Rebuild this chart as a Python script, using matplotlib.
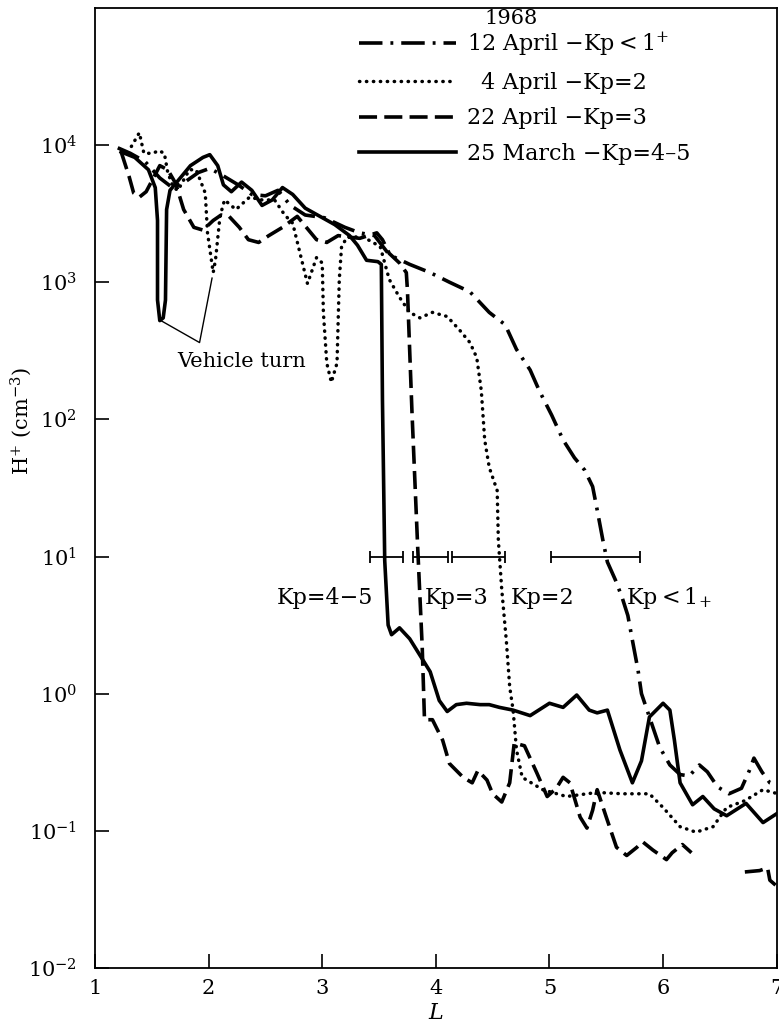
import numpy as np
import matplotlib.pyplot as plt
from matplotlib.lines import Line2D

plt.rcParams['font.family'] = ['DejaVu Serif']
plt.rcParams['mathtext.fontset'] = 'dejavuserif'

# L shell and log10 of the H+ density (cm^-3) along each pass, 1968
L_apr12 = [1.20, 1.31, 1.44, 1.57, 1.68, 1.79, 1.91, 2.01, 2.12, 2.26, 2.38, 2.50, 2.61, 2.72, 2.85,
           3.02, 3.20, 3.33, 3.46, 3.59, 3.77, 3.95, 4.12, 4.30, 4.47, 4.61, 4.71, 4.83, 4.91, 5.02,
           5.12, 5.22, 5.31, 5.38, 5.42, 5.47, 5.51, 5.58, 5.64, 5.69, 5.73, 5.78, 5.81, 5.88, 5.97,
           6.06, 6.15, 6.23, 6.32, 6.39, 6.48, 6.58, 6.69, 6.76, 6.80, 6.87, 6.94, 7.01]
logn_apr12 = [3.98, 3.94, 3.88, 3.76, 3.69, 3.73, 3.80, 3.83, 3.78, 3.71, 3.64, 3.63, 3.67, 3.56, 3.49,
              3.47, 3.40, 3.36, 3.34, 3.20, 3.13, 3.07, 3.00, 2.93, 2.78, 2.69, 2.51, 2.36, 2.21, 2.03,
              1.85, 1.72, 1.63, 1.51, 1.34, 1.12, 0.96, 0.83, 0.70, 0.57, 0.39, 0.17, 0.00, -0.17, -0.39,
              -0.52, -0.59, -0.60, -0.52, -0.57, -0.68, -0.73, -0.69, -0.56, -0.47, -0.57, -0.65, -0.67]

L_apr04 = [1.32, 1.39, 1.43, 1.51, 1.56, 1.61, 1.64, 1.69, 1.73, 1.83, 1.89, 1.97, 1.99, 2.04, 2.06,
           2.10, 2.14, 2.24, 2.36, 2.47, 2.58, 2.67, 2.74, 2.79, 2.87, 2.95, 3.00, 3.01, 3.04, 3.08,
           3.13, 3.15, 3.17, 3.22, 3.36, 3.51, 3.59, 3.68, 3.77, 3.86, 3.97, 4.10, 4.21, 4.30, 4.36,
           4.40, 4.43, 4.47, 4.54, 4.55, 4.58, 4.62, 4.65, 4.68, 4.71, 4.76, 4.94, 5.15, 5.42, 5.64,
           5.88, 6.00, 6.15, 6.29, 6.44, 6.56, 6.72, 6.88, 7.01]
logn_apr04 = [3.99, 4.09, 3.94, 3.94, 3.96, 3.94, 3.80, 3.69, 3.67, 3.82, 3.82, 3.65, 3.36, 3.07, 3.16,
              3.48, 3.60, 3.53, 3.62, 3.60, 3.60, 3.49, 3.43, 3.26, 2.99, 3.18, 3.14, 2.78, 2.41, 2.27,
              2.41, 3.02, 3.26, 3.33, 3.33, 3.26, 3.02, 2.89, 2.78, 2.74, 2.78, 2.75, 2.65, 2.56, 2.45,
              2.21, 1.85, 1.65, 1.48, 1.12, 0.76, 0.39, 0.05, -0.12, -0.41, -0.61, -0.70, -0.75, -0.72, -0.73,
              -0.73, -0.83, -0.97, -1.01, -0.97, -0.83, -0.78, -0.70, -0.73]

L_apr22 = [1.23, 1.30, 1.34, 1.39, 1.45, 1.52, 1.57, 1.64, 1.71, 1.78, 1.87, 1.95, 2.04, 2.11, 2.18,
           2.27, 2.35, 2.44, 2.53, 2.65, 2.78, 2.86, 2.95, 3.04, 3.14, 3.22, 3.33, 3.48, 3.53, 3.59,
           3.68, 3.74, 3.75, 3.79, 3.84, 3.88, 3.90, 3.97, 4.06, 4.12, 4.24, 4.32, 4.37, 4.45, 4.50,
           4.58, 4.65, 4.69, 4.78, 4.89, 4.98, 5.06, 5.12, 5.18, 5.27, 5.33, 5.38, 5.42, 5.50, 5.59,
           5.68, 5.77, 5.82, 5.91, 6.03, 6.08, 6.17, 6.25, np.nan, 6.72, 6.85, 6.92, 6.94, 7.01]
logn_apr22 = [3.95, 3.77, 3.65, 3.62, 3.66, 3.77, 3.85, 3.82, 3.72, 3.53, 3.40, 3.38, 3.45, 3.49, 3.48,
              3.40, 3.31, 3.29, 3.34, 3.40, 3.48, 3.40, 3.31, 3.29, 3.34, 3.33, 3.32, 3.36, 3.31, 3.21,
              3.14, 3.07, 2.94, 2.05, 1.07, 0.34, -0.19, -0.19, -0.34, -0.51, -0.61, -0.65, -0.56, -0.63, -0.73,
              -0.79, -0.65, -0.36, -0.38, -0.58, -0.75, -0.69, -0.61, -0.65, -0.90, -0.98, -0.85, -0.70, -0.90, -1.12,
              -1.18, -1.12, -1.08, -1.14, -1.21, -1.16, -1.10, -1.16, np.nan, -1.30, -1.29, -1.27, -1.36, -1.41]

L_mar25 = [1.23, 1.35, 1.47, 1.53, 1.55, 1.55, 1.57, 1.60, 1.62, 1.63, 1.66, 1.75, 1.84, 1.95, 2.01,
           2.08, 2.13, 2.20, 2.29, 2.38, 2.47, 2.56, 2.65, 2.74, 2.85, 2.98, 3.11, 3.24, 3.31, 3.39,
           3.49, 3.52, 3.53, 3.55, 3.58, 3.61, 3.68, 3.77, 3.86, 3.95, 4.03, 4.10, 4.18, 4.27, 4.39,
           4.47, 4.56, 4.68, 4.83, 5.00, 5.12, 5.24, 5.35, 5.42, 5.51, 5.62, 5.73, 5.81, 5.88, 6.00,
           6.06, 6.10, 6.15, 6.26, 6.35, 6.45, 6.56, 6.73, 6.88, 7.01]
logn_mar25 = [3.95, 3.91, 3.82, 3.69, 3.45, 2.87, 2.72, 2.74, 2.87, 3.53, 3.67, 3.76, 3.85, 3.91, 3.93,
              3.85, 3.71, 3.66, 3.73, 3.67, 3.56, 3.60, 3.69, 3.64, 3.54, 3.48, 3.42, 3.34, 3.27, 3.16,
              3.15, 3.13, 2.14, 0.97, 0.50, 0.43, 0.48, 0.40, 0.28, 0.16, -0.05, -0.13, -0.08, -0.07, -0.08,
              -0.08, -0.10, -0.12, -0.16, -0.07, -0.10, -0.01, -0.12, -0.14, -0.12, -0.41, -0.65, -0.49, -0.17, -0.07,
              -0.12, -0.34, -0.65, -0.81, -0.75, -0.84, -0.89, -0.80, -0.94, -0.87]

# plasmapause position ranges marked at the 10 cm^-3 level
kp_names = ['Kp=4\u22125', 'Kp=3', 'Kp=2', r'Kp$<1_{+}$']
kp_lo = [3.42, 3.80, 4.14, 5.01]
kp_hi = [3.71, 4.11, 4.61, 5.80]
kp_level = 10.0

legend_labels = ['12 April \u2212Kp$<1^{+}$', '\u20074 April \u2212Kp=2',
                 '22 April \u2212Kp=3', '25 March \u2212Kp=4\u20135']

fig = plt.figure(figsize=(7.79, 10.28), dpi=100)
ax = fig.add_axes([0.122, 0.0584, 0.875, 0.9339])

styles = [
    dict(color='k', lw=2.6, linestyle=(0, (6.5, 2.2, 0.8, 2.2))),
    dict(color='k', lw=2.5, linestyle=(0, (0.1, 1.9)), dash_capstyle='round'),
    dict(color='k', lw=2.6, linestyle=(0, (5, 2))),
    dict(color='k', lw=2.6, linestyle='-'),
]
curves = [(L_apr12, logn_apr12), (L_apr04, logn_apr04), (L_apr22, logn_apr22), (L_mar25, logn_mar25)]
for (L, logn), st in zip(curves, styles):
    ax.plot(L, 10 ** np.array(logn), **st)

kp_lo = np.array(kp_lo)
kp_hi = np.array(kp_hi)
ax.errorbar((kp_lo + kp_hi) / 2, np.full(len(kp_lo), kp_level), xerr=(kp_hi - kp_lo) / 2,
            fmt='none', ecolor='k', elinewidth=1.3, capsize=4.5, capthick=1.3)
kp_text_x = [3.02, 4.18, 4.94, 6.05]
for name, x in zip(kp_names, kp_text_x):
    ax.text(x, 5.0, name, ha='center', va='center', fontsize=16)

# "Vehicle turn" pointers to the two dips
ax.plot([1.58, 1.92, 2.03], [10 ** 2.72, 10 ** 2.56, 10 ** 3.03], color='k', lw=1.0)
ax.text(2.29, 10 ** 2.42, 'Vehicle turn', ha='center', va='center', fontsize=15)

handles = [Line2D([], [], **st) for st in styles]
ax.legend(handles, legend_labels, loc='upper left', bbox_to_anchor=(0.385, 0.978),
          frameon=False, fontsize=16, handlelength=4.4, handletextpad=0.5,
          labelspacing=0.6, borderpad=0.05, borderaxespad=0)
ax.text(0.61, 0.989, '1968', transform=ax.transAxes, ha='center', va='center', fontsize=15)

ax.set_yscale('log')
ax.set_xlim(1, 7)
ax.set_ylim(1e-2, 1e5)
ax.set_xticks(range(1, 8))
ax.set_yticks([1e-2, 1e-1, 1e0, 1e1, 1e2, 1e3, 1e4])
ax.yaxis.set_minor_locator(plt.NullLocator())
ax.tick_params(direction='in', length=10, width=1.2, labelsize=15)
ax.tick_params(axis='y', pad=13)
ax.tick_params(axis='x', pad=8)
for sp in ax.spines.values():
    sp.set_linewidth(1.3)

ax.set_xlabel('L', fontsize=16, fontstyle='italic', labelpad=3)
ax.set_ylabel(r'H$^{+}$ (cm$^{-3}$)', fontsize=15)
ax.yaxis.set_label_coords(-0.09, 0.57)

fig.savefig('out.png', dpi=100)
